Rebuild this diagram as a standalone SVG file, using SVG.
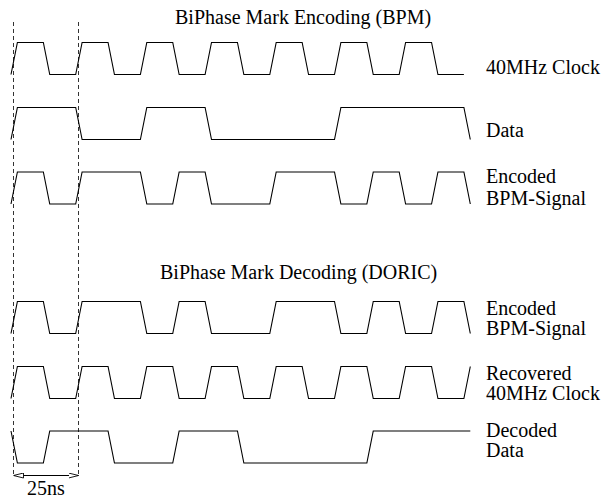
<svg xmlns="http://www.w3.org/2000/svg" width="603" height="500" viewBox="0 0 603 500">
<style>
.sig{fill:none;stroke:#000;stroke-width:1.1;stroke-linejoin:miter}
.dash{fill:none;stroke:#333;stroke-width:1;stroke-dasharray:4,3}
.t{font-family:"Liberation Serif","Times New Roman",serif;font-size:20px;fill:#000}
.dim{fill:none;stroke:#000;stroke-width:1}
</style>
<defs>
<marker id="ah" viewBox="0 0 10 6" refX="10" refY="3" markerWidth="10" markerHeight="6" markerUnits="userSpaceOnUse" orient="auto-start-reverse">
<path d="M0,0.5 L10,3 L0,5.5 z" fill="#fff" stroke="#000" stroke-width="0.9"/>
</marker>
</defs>
<rect width="603" height="500" fill="#fff"/>
<text class="t" x="175" y="24">BiPhase Mark Encoding (BPM)</text>
<text class="t" x="160" y="279">BiPhase Mark Decoding (DORIC)</text>
<g id="guides">
<line class="dash" x1="13.5" y1="22" x2="13.5" y2="476"/>
<line class="dash" x1="78.5" y1="22" x2="78.5" y2="476"/>
</g>
<g id="clock">
<path class="sig" d="M11 74.5 L17.4 42.5 H43.35 L49.75 74.5 H75.7 L82.1 42.5 H108.05 L114.45 74.5 H140.4 L146.8 42.5 H172.75 L179.15 74.5 H205.1 L211.5 42.5 H237.45 L243.85 74.5 H269.8 L276.2 42.5 H302.15 L308.55 74.5 H334.5 L340.9 42.5 H366.85 L373.25 74.5 H399.2 L405.6 42.5 H431.55 L437.95 74.5 H463.9"/>
<text class="t" x="486" y="74">40MHz Clock</text>
</g>
<g id="data">
<path class="sig" d="M11 139.5 L17.4 107.5 H75.7 L82.1 139.5 H140.4 L146.8 107.5 H205.1 L211.5 139.5 H334.5 L340.9 107.5 H463.9 L470.3 139.5"/>
<text class="t" x="486" y="137">Data</text>
</g>
<g id="encoded">
<path class="sig" d="M11 204 L17.4 172 H43.35 L49.75 204 H75.7 L82.1 172 H140.4 L146.8 204 H172.75 L179.15 172 H205.1 L211.5 204 H269.8 L276.2 172 H334.5 L340.9 204 H366.85 L373.25 172 H399.2 L405.6 204 H431.55 L437.95 172 H463.9 L470.3 204"/>
<text class="t" x="486" y="183">Encoded</text>
<text class="t" x="486" y="205">BPM-Signal</text>
</g>
<g id="encoded2">
<path class="sig" d="M11 333.5 L17.4 301.5 H43.35 L49.75 333.5 H75.7 L82.1 301.5 H140.4 L146.8 333.5 H172.75 L179.15 301.5 H205.1 L211.5 333.5 H269.8 L276.2 301.5 H334.5 L340.9 333.5 H366.85 L373.25 301.5 H399.2 L405.6 333.5 H431.55 L437.95 301.5 H463.9 L470.3 333.5"/>
<text class="t" x="486" y="315">Encoded</text>
<text class="t" x="486" y="335">BPM-Signal</text>
</g>
<g id="recovered">
<path class="sig" d="M11 398.5 L17.4 366.5 H43.35 L49.75 398.5 H75.7 L82.1 366.5 H108.05 L114.45 398.5 H140.4 L146.8 366.5 H172.75 L179.15 398.5 H205.1 L211.5 366.5 H237.45 L243.85 398.5 H269.8 L276.2 366.5 H302.15 L308.55 398.5 H334.5 L340.9 366.5 H366.85 L373.25 398.5 H399.2 L405.6 366.5 H431.55 L437.95 398.5 H463.9 L470.3 366.5"/>
<text class="t" x="486" y="380">Recovered</text>
<text class="t" x="486" y="400">40MHz Clock</text>
</g>
<g id="decoded">
<path class="sig" d="M11 431 L17.4 463 H43.35 L49.75 431 H108.05 L114.45 463 H172.75 L179.15 431 H237.45 L243.85 463 H366.85 L373.25 431 H470.3"/>
<text class="t" x="486" y="437">Decoded</text>
<text class="t" x="486" y="457">Data</text>
</g>
<g id="connectors">
<line class="dim" x1="13.5" y1="475.5" x2="78.5" y2="475.5" marker-start="url(#ah)" marker-end="url(#ah)"/>
</g>
<text class="t" x="46" y="495" text-anchor="middle">25ns</text>
</svg>
